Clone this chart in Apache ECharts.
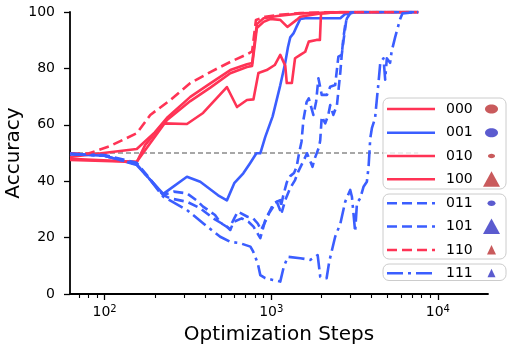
<!DOCTYPE html>
<html><head><meta charset="utf-8">
<script src="https://cdn.jsdelivr.net/npm/echarts@6/dist/echarts.min.js"></script>
<style>html,body{margin:0;padding:0;background:#fff}#c{width:509px;height:347px}</style>
</head><body><div id="c"></div>
<script>
const FONT = 'DejaVu Sans';
const RED = '#FF3355', BLUE = '#3B5EFF';

// ---- data (optimization steps, accuracy %) ----
const steps000 = [62,156,200,237,327,431,568,715,768,820,900,1090,1494,2260,7620];
const acc000   = [48.6,51.4,57.3,62.5,69.9,74.7,79.4,81.5,81.9,95.7,97.8,98.6,99.5,99.8,100];

const steps001 = [62,100,156,225,312,375,480,542,600,680,745,815,860,921,1020,1133,1214,1260,1301,1360,1420,1494,1600,1969,2600,2800,3000,7620];
const acc001   = [49.6,49,45.7,35.5,41.6,39.8,35,33.2,39.3,42.8,46.3,49.9,49.9,55.7,63,74,82,87.5,91,92.4,94.8,97.5,97.8,97.8,97.8,99.5,100,100];

const steps010 = [62,156,175,237,327,431,568,715,768,820,900,987,1133,1250,1420,1494,1969,2600,7620];
const acc010   = [47.9,46.9,51,61.7,68.4,73.2,78.3,80.5,80.9,94.3,96.5,97.5,97.2,94.7,97.2,98.3,99.5,100,100];

const steps100 = [62,156,175,225,312,390,542,623,715,782,838,940,1050,1133,1214,1240,1330,1390,1494,1600,1680,1870,1960,1990,2600,7620];
const acc100   = [47.5,46.8,52.8,60.5,60.3,64.2,73.4,66.3,68.8,69,78.4,79.4,81.2,84.8,81,74.8,74.8,83.6,84.8,85.9,89.5,90.1,90.1,99.5,100,100];

const steps011 = [62,100,156,225,260,312,355,390,460,500,560,600,630,720,780,830,870,930,970,1030,1080,1130,1180,1240,1300,1370,1420,1470,1520,1560,1630,1680,1790,1860,1920,2010,2160,2260,2420,2530,2650,2710,2780,2850,2980,3300,7620];
const acc011   = [49.6,49.3,46.5,35.1,36.3,35.7,33.3,31,28,25.1,23.3,26.8,29.2,27.4,26.8,25,22.7,26.2,28.6,31,32.7,29.8,34.8,39.6,41.8,42.9,45,50,54,61.7,68,69.4,63.5,68.2,76.5,70.6,70.6,73.5,74.1,84.2,84.8,90.7,95.4,97.8,99.5,100,100];

const steps101 = [62,100,156,225,248,312,375,450,542,568,595,665,730,783,860,921,987,1034,1133,1160,1214,1301,1390,1450,1570,1640,1770,1810,1940,1969,2010,2110,2200,2260,2360,2480,2540,2600,2650,2710,2850,2980,3300,7620];
const acc101   = [49.8,49,46,35.1,33.9,32.7,30.4,26.8,23.9,22.7,25.6,26.8,25.6,23.9,19.8,26.2,29.8,32.2,33.3,29.2,33.3,37.6,40.4,43.3,47.5,49.9,45.1,47.5,52.2,54.6,62.9,60.5,63.5,67,63.5,67,72.9,78.8,84.8,89.5,98.9,99.8,100,100];

const steps110 = [62,80,108,156,188,248,327,431,568,715,768,810,921,1083,1494,2500,7620];
const acc110   = [49.8,49.8,52.5,57,63.5,68.8,74.8,78.7,82.3,85,86,97.2,98.3,98.9,99.6,100,100];

const steps111 = [62,100,156,188,225,312,390,494,568,652,750,780,830,860,921,1020,1133,1190,1260,1494,1715,1900,1969,2150,2230,2420,2600,2780,2980,3050,3190,3270,3420,3580,3750,3840,3930,4020,4200,4310,4410,4510,4720,4830,4940,5170,5280,5540,5940,6130,7620];
const acc111   = [49.8,49,46,40.4,34.5,29.8,25.1,20.3,18.5,18,16.8,15,10.9,6.7,5.6,5,4.4,9.7,13.2,12.7,12.1,13.8,6.1,5.6,11.5,20.3,25,32.7,36.9,34.5,22.1,32.2,33.9,38,39.8,45.1,55.2,58.8,62.3,69.4,75.3,81.8,83.6,76,83.6,82,86,91,97.5,99.5,100];

const baselineSteps = [62, 7620];
const baselineAcc   = [50, 50];

const xRange = [62, 20000];
const xMajorTicks = [100, 1000, 10000];
const xMinorTicks = [70,80,90,200,300,400,500,600,700,800,900,2000,3000,4000,5000,6000,7000,8000,9000];

const seriesNames = ['000','001','010','100','011','101','110','111'];

// log10 scale mapping onto a value axis
const L = v => Math.log10(v);

// ---- styles ----
const DASH = [10, 5];
const DASHDOT = [16, 5, 3, 5];
const defs = [
  {s:steps000, a:acc000, color:RED,  dash:'solid', mk:{t:'e', c:'#C95A5C', w:13, h:9}},
  {s:steps001, a:acc001, color:BLUE, dash:'solid', mk:{t:'e', c:'#5B5BCF', w:13, h:9}},
  {s:steps010, a:acc010, color:RED,  dash:'solid', mk:{t:'e', c:'#C95A5C', w:7, h:4.5}},
  {s:steps100, a:acc100, color:RED,  dash:'solid', mk:{t:'t', c:'#C95A5C', w:17, h:15}},
  {s:steps011, a:acc011, color:BLUE, dash:DASH,    mk:{t:'e', c:'#5B5BCF', w:8, h:5.5}},
  {s:steps101, a:acc101, color:BLUE, dash:DASH,    mk:{t:'t', c:'#5B5BCF', w:17, h:15}},
  {s:steps110, a:acc110, color:RED,  dash:DASH,    mk:{t:'t', c:'#C95A5C', w:9, h:9}},
  {s:steps111, a:acc111, color:BLUE, dash:DASHDOT, mk:{t:'t', c:'#5B5BCF', w:8, h:8}}
];
defs.forEach((d, i) => d.name = seriesNames[i]);

const zip = (s, a) => s.map((v, i) => [L(v), a[i]]);

const series = [{
  type:'line', name:'baseline', data: zip(baselineSteps, baselineAcc), symbol:'none', silent:true,
  lineStyle:{color:'#8A8A8A', width:1.5, type:[5,3]}, z:1
}].concat(defs.map((d, i) => ({
  type:'line', name:d.name, data: zip(d.s, d.a), symbol:'none',
  lineStyle:{color:d.color, width:2.6, type:d.dash, cap:'butt', join:'round'},
  z: 2 + i
})));

// ---- legend drawn as graphic (three boxes, line sample, label, marker) ----
const rowY = [109, 132.7, 156, 179.3, 203.3, 226.5, 250, 273.3];
const boxes = [[98, 91], [194, 65], [264, 16.5]];
const graphics = [];
boxes.forEach(b => graphics.push({
  type:'rect', shape:{x:383, y:b[0], width:123, height:b[1], r:6},
  style:{fill:'rgba(255,255,255,0.8)', stroke:'#CCCCCC', lineWidth:1}, z:100
}));
defs.forEach((d, i) => {
  const y = rowY[i];
  graphics.push({type:'line', shape:{x1:387, y1:y, x2:435, y2:y},
    style:{stroke:d.color, lineWidth:2.5, lineDash: d.dash === 'solid' ? null : d.dash}, z:101});
  graphics.push({type:'text', x:446, y:y, style:{text:d.name, font:'14px "DejaVu Sans"', fill:'#000', verticalAlign:'middle', align:'left'}, z:101});
  const m = d.mk, cx = 491.5;
  if (m.t === 'e') {
    graphics.push({type:'ellipse', shape:{cx:cx, cy:y, rx:m.w/2, ry:m.h/2}, style:{fill:m.c}, z:101});
  } else {
    graphics.push({type:'polygon', shape:{points:[[cx, y - m.h/2 - 0.5],[cx + m.w/2, y + m.h/2],[cx - m.w/2, y + m.h/2]]}, style:{fill:m.c}, z:101});
  }
});

const chart = echarts.init(document.getElementById('c'), null, {renderer:'canvas'});
chart.setOption({
  animation:false,
  backgroundColor:'#fff',
  textStyle:{fontFamily:FONT},
  grid:{left:70, right:21, top:12, bottom:53, containLabel:false, outerBoundsMode:'none'},
  xAxis:[{
    type:'value', min:L(xRange[0]), max:L(xRange[1]),
    name:'Optimization Steps', nameLocation:'middle', nameGap:31, nameMoveOverlap:false,
    nameTextStyle:{fontSize:20, color:'#000', fontFamily:FONT},
    axisLine:{show:true, lineStyle:{color:'#000', width:1.8}},
    axisTick:{show:true, customValues:xMajorTicks.map(L), length:6, lineStyle:{color:'#000', width:1.3}},
    axisLabel:{show:true, customValues:xMajorTicks.map(L), margin:10, color:'#000', fontSize:14, fontFamily:FONT, lineHeight:16,
      formatter: v => '10{sup|' + Math.round(v) + '}',
      rich:{sup:{fontSize:10, lineHeight:10, verticalAlign:'top', color:'#000', fontFamily:FONT}}},
    splitLine:{show:false}
  },{
    type:'value', min:L(xRange[0]), max:L(xRange[1]), position:'bottom',
    axisLine:{show:false},
    axisTick:{show:true, customValues:xMinorTicks.map(L), length:4, lineStyle:{color:'#000', width:1.1}},
    axisLabel:{show:false}, splitLine:{show:false}
  }],
  yAxis:{
    type:'value', min:0, max:100, interval:20,
    name:'Accuracy', nameLocation:'middle', nameGap:46, nameRotate:90, nameMoveOverlap:false,
    nameTextStyle:{fontSize:20, color:'#000', fontFamily:FONT},
    axisLine:{show:true, lineStyle:{color:'#000', width:1.8}},
    axisTick:{show:true, length:6, lineStyle:{color:'#000', width:1.3}},
    axisLabel:{color:'#000', fontSize:14, margin:15, fontFamily:FONT},
    splitLine:{show:false}
  },
  series: series,
  graphic: graphics
});
</script>
</body></html>
